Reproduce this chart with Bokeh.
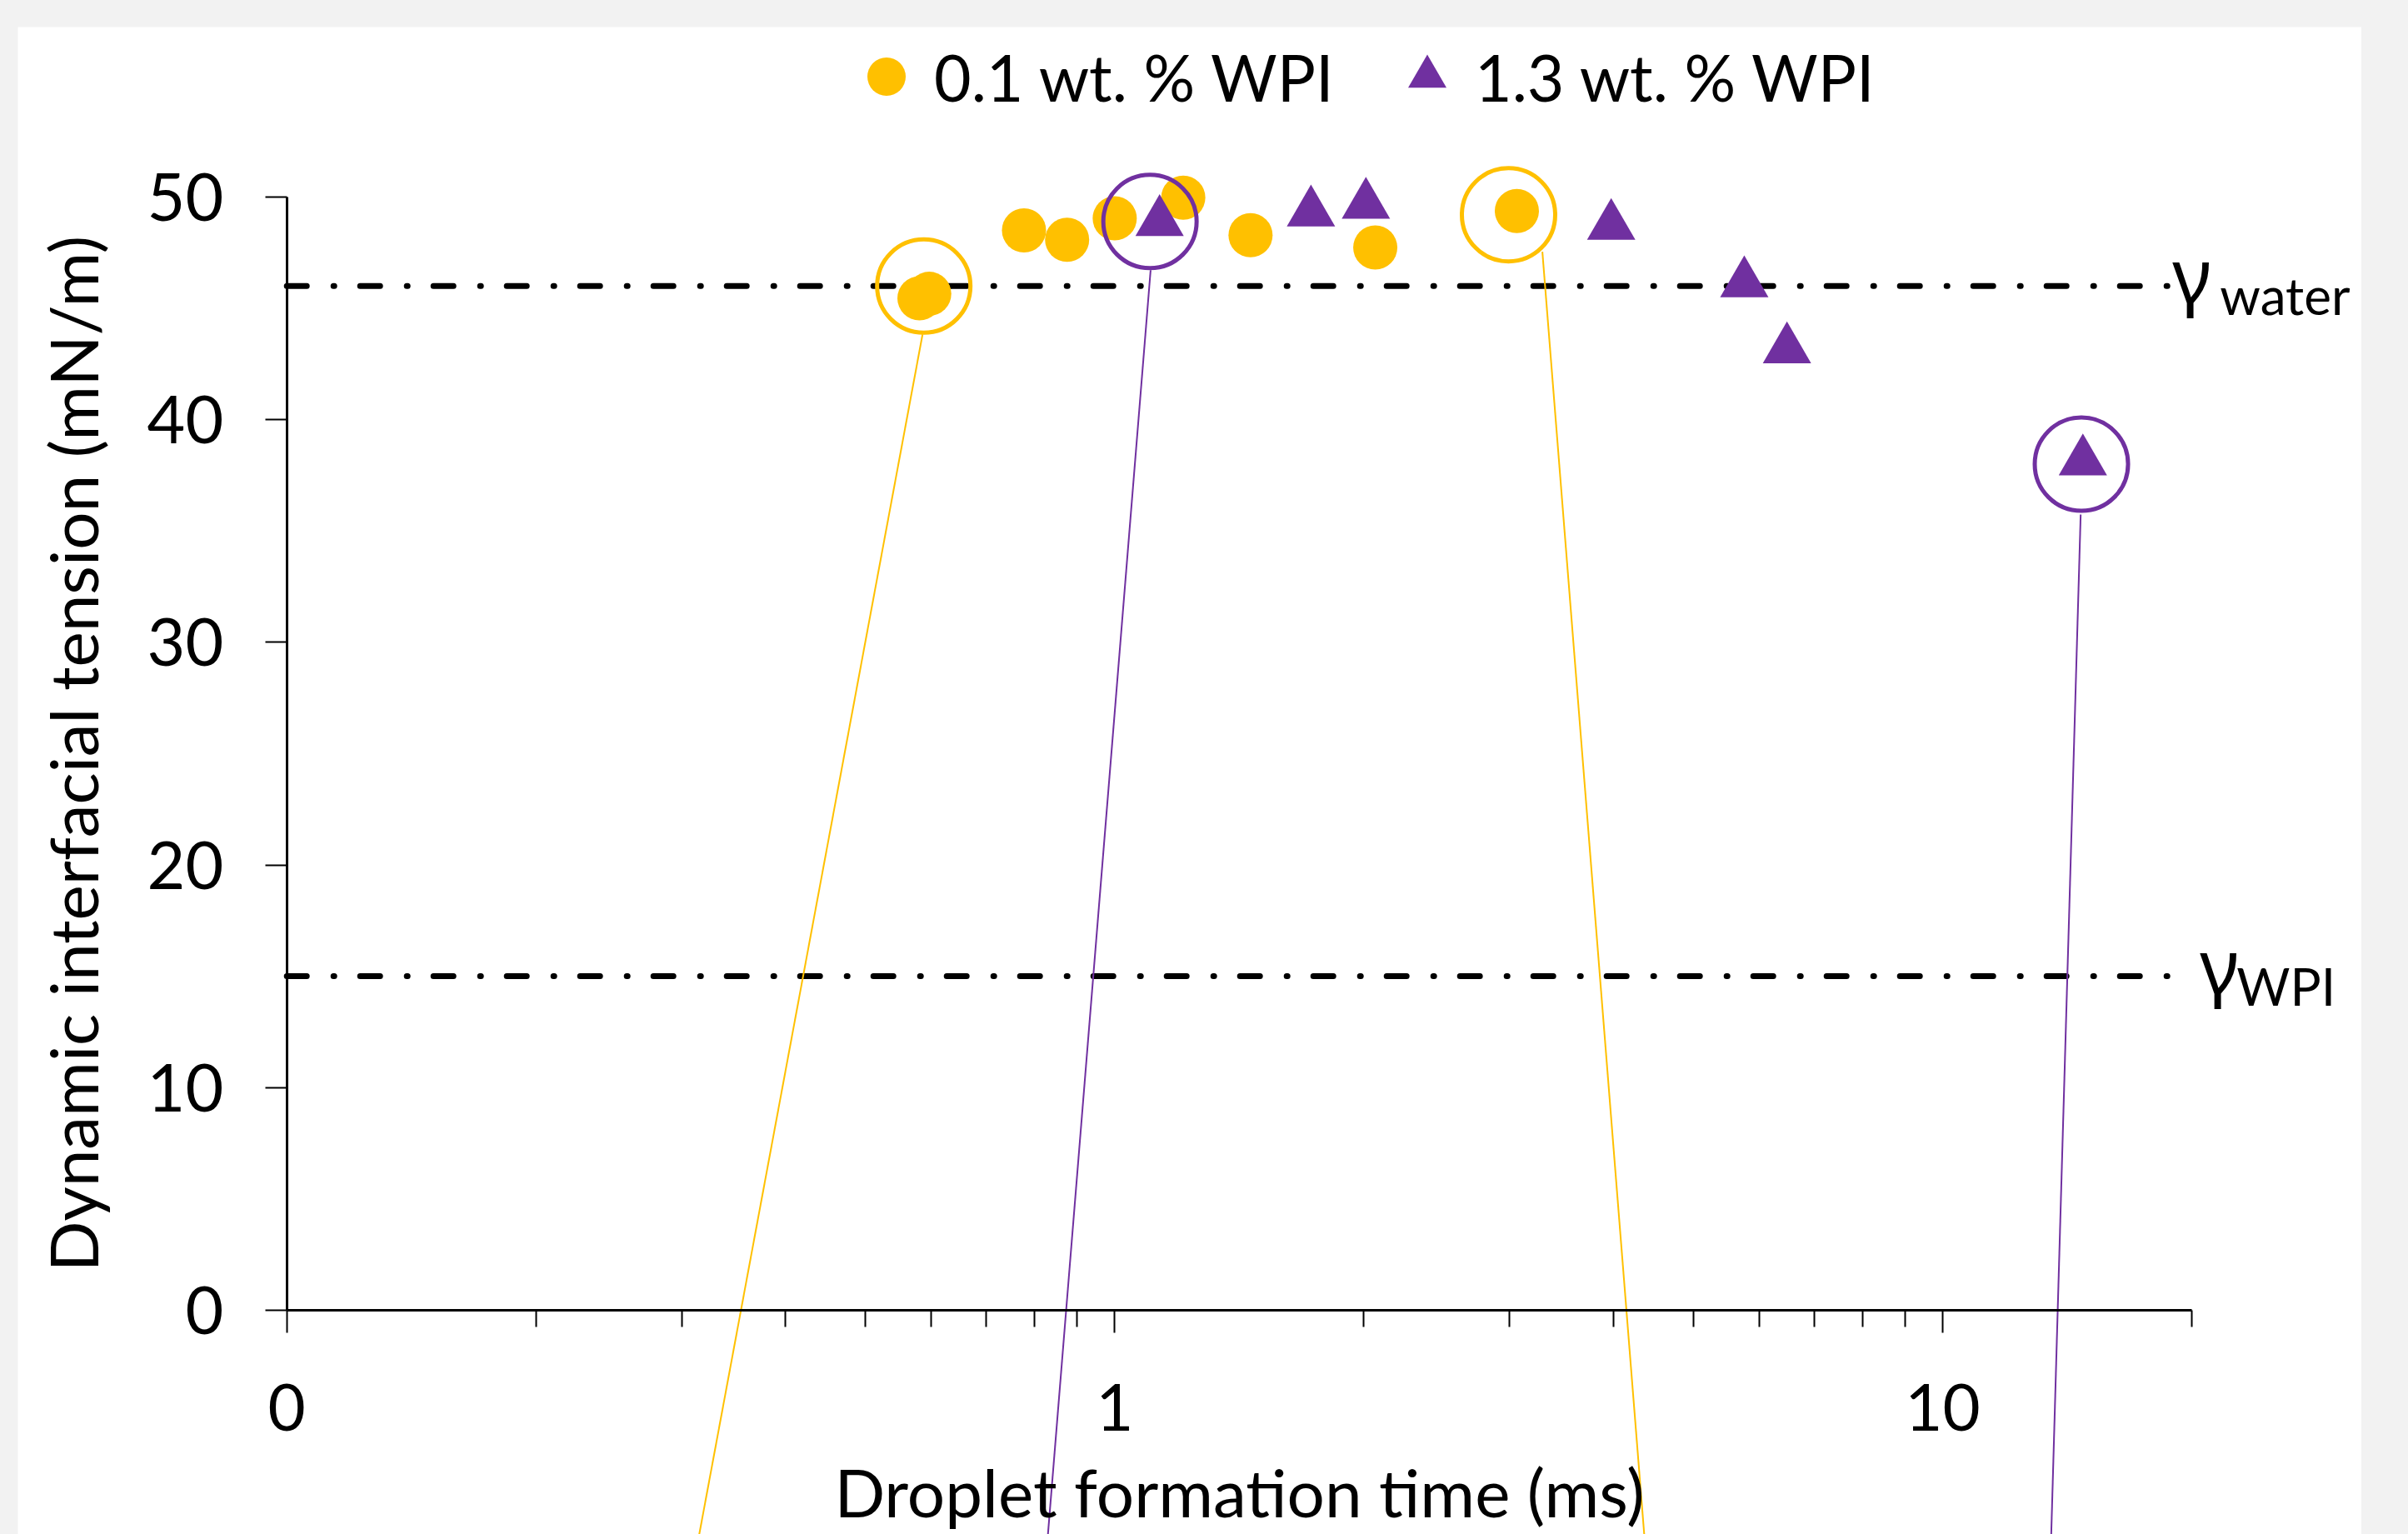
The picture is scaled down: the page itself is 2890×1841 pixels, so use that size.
from bokeh.plotting import figure
from bokeh.models import (ColumnDataSource, FixedTicker, Legend, LegendItem, Label,
                          Range1d, GlobalInlineStyleSheet)
from bokeh.embed import file_html
from bokeh.resources import INLINE

# ---------------- data ----------------
# 0.1 wt. % WPI (circles)
t_low = [0.581, 0.597, 0.777, 0.876, 1.00, 1.21, 1.459, 2.064, 3.06]
g_low = [45.45, 45.65, 48.5, 48.08, 49.04, 49.97, 48.28, 47.73, 49.37]
# 1.3 wt. % WPI (triangles)
t_high = [1.133, 1.726, 2.011, 3.978, 5.76, 6.486, 14.77]
g_high = [48.87, 49.30, 49.65, 48.7, 46.12, 43.16, 38.12]

# reference tensions
gamma_values = [46, 15]
gamma_names = ["water", "WPI"]

# highlighted points (rings)
ring_t_low = [0.588, 2.99]
ring_g_low = [46.0, 49.2]
ring_t_high = [1.103, 14.71]
ring_g_high = [48.9, 38.0]

# leader lines from rings (to insets below the chart)
lead_low_x0 = [0.586, 3.285]
lead_low_y0 = [43.83, 47.54]
lead_low_x1 = [0.311, 4.384]
lead_low_y1 = [-11.15, -11.15]
lead_high_x0 = [1.105, 14.68]
lead_high_y0 = [46.71, 35.74]
lead_high_x1 = [0.826, 13.50]
lead_high_y1 = [-11.15, -11.15]

x_major = [0.1, 1, 10]
x_major_labels = ["0", "1", "10"]
x_minor = [0.2, 0.3, 0.4, 0.5, 0.6, 0.7, 0.8, 0.9, 2, 3, 4, 5, 6, 7, 8, 9, 20]
x_bounds = (0.1, 20)
y_ticks = [0, 10, 20, 30, 40, 50]
y_bounds = (0, 50)

GOLD = "#FFC000"
PURPLE = "#7030A0"
FONT = "Lato"

p = figure(width=2813, height=1809, x_axis_type="log",
           x_range=Range1d(0.04734, 32.08), y_range=Range1d(-10.07, 57.63),
           output_backend="svg", toolbar_location=None,
           min_border_left=0, min_border_right=0,
           min_border_top=0, min_border_bottom=0,
           margin=(32, 0, 0, 21))
p.title.visible = False
p.outline_line_color = None
p.xgrid.visible = False
p.ygrid.visible = False
p.background_fill_color = "white"
p.border_fill_color = "white"
p.stylesheets = [GlobalInlineStyleSheet(css="html, body { background-color: #f2f2f2; overflow: hidden; }")]

# ---- x axis (at y = 0) ----
xa = p.xaxis[0]
xa.ticker = FixedTicker(ticks=x_major, minor_ticks=x_minor)
xa.major_label_overrides = {v: s for v, s in zip(x_major, x_major_labels)}
xa.fixed_location = 0
xa.bounds = x_bounds
xa.axis_label = "Droplet formation time (ms)"
xa.axis_line_width = 3
xa.axis_line_color = "black"
xa.major_tick_in = 0
xa.major_tick_out = 27
xa.minor_tick_in = 0
xa.minor_tick_out = 20
xa.major_tick_line_width = 2
xa.minor_tick_line_width = 2
xa.major_tick_line_color = "black"
xa.minor_tick_line_color = "black"
xa.major_label_standoff = 62
xa.major_label_text_font = FONT
xa.major_label_text_font_size = "78px"
xa.major_label_text_color = "black"
xa.axis_label_text_font = FONT
xa.axis_label_text_font_size = "80px"
xa.axis_label_text_font_style = "normal"
xa.axis_label_text_color = "black"
xa.axis_label_standoff = 21

# ---- y axis (at x = 0.1) ----
ya = p.yaxis[0]
ya.ticker = FixedTicker(ticks=y_ticks)
ya.fixed_location = 0.1
ya.bounds = y_bounds
ya.axis_label = "Dynamic interfacial tension (mN/m)"
ya.axis_line_width = 3
ya.axis_line_color = "black"
ya.major_tick_in = 0
ya.major_tick_out = 26
ya.minor_tick_in = 0
ya.minor_tick_out = 0
ya.major_tick_line_width = 2
ya.major_tick_line_color = "black"
ya.major_label_standoff = 50
ya.major_label_text_font = FONT
ya.major_label_text_font_size = "79px"
ya.major_label_text_color = "black"
ya.axis_label_text_font = FONT
ya.axis_label_text_font_size = "80px"
ya.axis_label_text_font_style = "normal"
ya.axis_label_text_color = "black"
ya.axis_label_standoff = 39

# ---- reference lines ----
hsrc = ColumnDataSource(dict(x0=[0.1] * len(gamma_values), x1=[19.16] * len(gamma_values),
                             y=gamma_values))
p.segment(x0="x0", y0="y", x1="x1", y1="y", source=hsrc, line_color="black",
          line_width=7, line_dash="24 32 1 31", line_cap="round")

# ---- leader lines ----
p.segment(x0=lead_low_x0, y0=lead_low_y0, x1=lead_low_x1, y1=lead_low_y1,
          line_color=GOLD, line_width=2)
p.segment(x0=lead_high_x0, y0=lead_high_y0, x1=lead_high_x1, y1=lead_high_y1,
          line_color=PURPLE, line_width=2)

# ---- data ----
r_low = p.scatter(t_low, g_low, marker="circle", size=53, fill_color=GOLD, line_color=None)
r_high = p.scatter(t_high, g_high, marker="triangle", size=58, fill_color=PURPLE, line_color=None)

# ---- rings ----
p.scatter(ring_t_low, ring_g_low, marker="circle", size=112, fill_color=None,
          line_color=GOLD, line_width=5)
p.scatter(ring_t_high, ring_g_high, marker="circle", size=112, fill_color=None,
          line_color=PURPLE, line_width=5)

# ---- legends ----
for r, lab, loc in [(r_low, "0.1 wt. % WPI", (985, 1687)),
                    (r_high, "1.3 wt. % WPI", (1634, 1687))]:
    lg = Legend(items=[LegendItem(label=lab, renderers=[r])], location=loc,
                orientation="horizontal", glyph_width=115, glyph_height=125,
                label_standoff=0, padding=0, margin=0, spacing=0,
                border_line_color=None, background_fill_alpha=0,
                label_text_font=FONT, label_text_font_size="77px",
                label_text_color="black")
    p.add_layout(lg)

# ---- gamma labels ----
gamma_x = [18.95, 20.45]
sub_offsets = [57, 44]
for gv, name, gx, so in zip(gamma_values, gamma_names, gamma_x, sub_offsets):
    p.add_layout(Label(x=gx, y=gv, text="γ", text_font="Noto Sans", text_font_size="90px",
                       text_baseline="alphabetic", y_offset=15, text_color="black"))
    p.add_layout(Label(x=gx, y=gv, text=name, text_font=FONT, text_font_size="62px",
                       text_baseline="alphabetic", x_offset=so, y_offset=-11,
                       text_color="black"))

open("out.html", "w").write(file_html(p, INLINE))
